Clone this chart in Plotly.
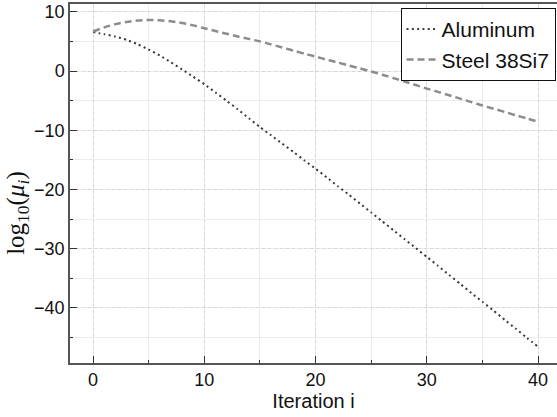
import plotly.graph_objects as go

iterations = list(range(0, 41))
aluminum = [6.6, 6.25, 5.85, 5.3, 4.55, 3.65, 2.65, 1.5, 0.3, -0.95,
            -2.2, -3.6, -5.0, -6.45, -7.95, -9.45, -10.85, -12.25, -13.65, -15.1,
            -16.5, -17.95, -19.45, -20.9, -22.4, -23.9, -25.4, -26.9, -28.4, -29.9,
            -31.4, -32.9, -34.45, -35.95, -37.5, -39.0, -40.5, -42.05, -43.55, -45.1,
            -46.6]
steel = [6.7, 7.4, 7.95, 8.3, 8.55, 8.65, 8.6, 8.42, 8.14, 7.74,
         7.25, 6.78, 6.32, 5.87, 5.45, 5.03, 4.53, 4.0, 3.47, 2.96,
         2.45, 1.95, 1.45, 0.95, 0.45, -0.05, -0.6, -1.18, -1.75, -2.35,
         -2.95, -3.5, -4.08, -4.65, -5.23, -5.8, -6.35, -6.9, -7.45, -8.0,
         -8.55]
series_names = ["Aluminum", "Steel 38Si7"]
x_ticks = [0, 10, 20, 30, 40]
y_ticks = [10, 0, -10, -20, -30, -40]

fig = go.Figure()
fig.add_trace(go.Scatter(x=iterations, y=aluminum, mode="lines", name=series_names[0],
                         line=dict(color="#3a3a3a", width=2, dash="2px,3.3px",
                                   shape="spline", smoothing=0.5)))
fig.add_trace(go.Scatter(x=iterations, y=steel, mode="lines", name=series_names[1],
                         line=dict(color="#8c8c8c", width=2.5, dash="7px,4px",
                                   shape="spline", smoothing=0.5)))

axis_common = dict(
    showline=True, linecolor="#555555", linewidth=1.5,
    ticks="inside", ticklen=7, tickcolor="#333333", tickwidth=1,
    showgrid=True, gridcolor="#d6d6d6", griddash="dot", gridwidth=1,
    zeroline=False,
    tickfont=dict(family="Liberation Sans, Arial", size=18, color="#111111"),
)

fig.update_xaxes(
    **axis_common, mirror=True,
    range=[-2.07, 41.7], tickvals=x_ticks,
    minor=dict(dtick=5, tick0=0, ticks="inside", ticklen=3, tickcolor="#333333",
               showgrid=True, gridcolor="#ececec", griddash="solid"),
    title=dict(text="Iteration i", font=dict(family="Liberation Sans, Arial", size=20, color="#111111"),
               standoff=0),
)
fig.update_yaxes(
    **axis_common, mirror=False,
    range=[-49.34, 11.35], tickvals=y_ticks,
    minor=dict(dtick=5, tick0=0, ticks="inside", ticklen=3, tickcolor="#333333",
               showgrid=True, gridcolor="#ececec", griddash="solid"),
)

fig.add_annotation(
    text="log<sub>10</sub>(<i>μ<sub>i</sub></i>)",
    xref="paper", yref="paper", x=-0.107, y=0.418,
    xanchor="center", yanchor="middle", textangle=-90, showarrow=False,
    font=dict(family="Liberation Serif, DejaVu Serif", size=25, color="#111111"),
)

fig.update_layout(
    width=557, height=417,
    margin=dict(l=70, r=0, t=4, b=54),
    plot_bgcolor="white", paper_bgcolor="white",
    showlegend=True,
    legend=dict(x=0.997, xanchor="right", y=0.989, yanchor="top",
                bgcolor="white", bordercolor="#111111", borderwidth=1,
                font=dict(family="Liberation Sans, Arial", size=21, color="#111111"),
                itemwidth=30, tracegroupgap=0),
)

fig.write_html("out.html")
